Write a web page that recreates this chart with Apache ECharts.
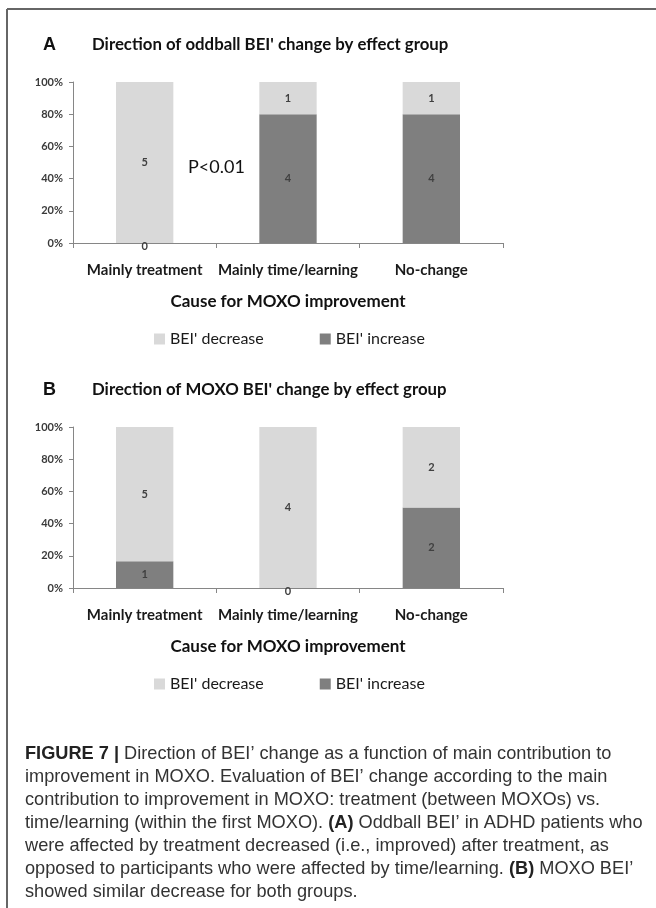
<!DOCTYPE html>
<html>
<head>
<meta charset="utf-8">
<script src="https://cdn.jsdelivr.net/npm/echarts@6/dist/echarts.min.js"></script>
<style>
html,body{margin:0;padding:0;background:#fff;}
#chart{width:656px;height:908px;}
</style>
</head>
<body>
<div id="chart"></div>
<script>
// ---- data ----
var categories = ['Mainly treatment', 'Mainly time/learning', 'No-change'];
var seriesNames = ["BEI' decrease", "BEI' increase"];
var panelA_decrease = [5, 1, 1];
var panelA_increase = [0, 4, 4];
var panelB_decrease = [5, 4, 2];
var panelB_increase = [1, 0, 2];
var yTicks = [0, 20, 40, 60, 80, 100];
var titleA = "Direction of oddball BEI' change by effect group";
var titleB = "Direction of MOXO BEI' change by effect group";
var xAxisName = 'Cause for MOXO improvement';
var pValueText = 'P<0.01';
var captionLines = [
  '{b|FIGURE 7 |} Direction of BEI\u2019 change as a function of main contribution to',
  'improvement in MOXO. Evaluation of BEI\u2019 change according to the main',
  'contribution to improvement in MOXO: treatment (between MOXOs) vs.',
  'time/learning (within the first MOXO). {b|(A)} Oddball BEI\u2019 in ADHD patients who',
  'were affected by treatment decreased (i.e., improved) after treatment, as',
  'opposed to participants who were affected by time/learning. {b|(B)} MOXO BEI\u2019',
  'showed similar decrease for both groups.'
];

// ---- styles ----
var LIGHT = '#d9d9d9', DARK = '#7f7f7f';
var CFONT = 'Lato';
var gridTops = [82, 427];
var gridH = 161;

function totals(a, b) { return a.map(function (v, i) { return v + b[i]; }); }
function pctItems(counts, tot) {
  return counts.map(function (c, i) {
    var item = {value: tot[i] ? c / tot[i] * 100 : 0};
    if (c === 0) item.label = {offset: [0, 3]};
    return item;
  });
}

var panels = [
  {dec: panelA_decrease, inc: panelA_increase},
  {dec: panelB_decrease, inc: panelB_increase}
];

var grids = [], xAxes = [], yAxes = [], series = [], legends = [];
panels.forEach(function (p, k) {
  var tot = totals(p.dec, p.inc);
  grids.push({left: 73, top: gridTops[k], width: 430, height: gridH});
  xAxes.push({
    type: 'category', gridIndex: k, data: categories,
    axisLine: {lineStyle: {color: '#868686', width: 1}},
    axisTick: {show: true, length: 5, lineStyle: {color: '#868686'}},
    axisLabel: {interval: 0, hideOverlap: false, margin: 20, fontFamily: CFONT, fontWeight: 'bold', fontSize: 15, color: '#1a1a1a'},
    name: xAxisName, nameLocation: 'middle', nameGap: 50,
    nameTextStyle: {fontFamily: CFONT, fontWeight: 'bold', fontSize: 17, color: '#111'}
  });
  yAxes.push({
    type: 'value', gridIndex: k, min: 0, max: 100, interval: 20,
    axisLine: {show: true, lineStyle: {color: '#868686', width: 1}},
    axisTick: {show: true, length: 4, lineStyle: {color: '#868686'}},
    splitLine: {show: false},
    axisLabel: {margin: 10, fontFamily: CFONT, fontWeight: 'bold', fontSize: 11, color: '#3a3a3a',
      formatter: function (v) { return v + '%'; }}
  });
  var lbl = function (counts) {
    return {show: true, position: 'inside', fontFamily: CFONT, fontWeight: 'bold', fontSize: 11, color: '#404040',
      formatter: function (pr) { return String(counts[pr.dataIndex]); }};
  };
  series.push({
    name: seriesNames[1], type: 'bar', stack: 's' + k, xAxisIndex: k, yAxisIndex: k,
    data: pctItems(p.inc, tot), barWidth: '40%', itemStyle: {color: DARK}, label: lbl(p.inc), animation: false
  });
  series.push({
    name: seriesNames[0], type: 'bar', stack: 's' + k, xAxisIndex: k, yAxisIndex: k,
    data: pctItems(p.dec, tot), barWidth: '40%', itemStyle: {color: LIGHT}, label: lbl(p.dec), animation: false
  });
  legends.push({
    data: [seriesNames[0], seriesNames[1]], left: 149, top: gridTops[k] + 244,
    icon: 'rect', itemWidth: 11, itemHeight: 11, itemGap: 56,
    textStyle: {fontFamily: CFONT, fontSize: 16, color: '#1a1a1a'}
  });
});

var graphics = [
  {type: 'line', shape: {x1: 7, y1: 9, x2: 656, y2: 9}, style: {stroke: '#666', lineWidth: 2}},
  {type: 'line', shape: {x1: 7, y1: 9, x2: 7, y2: 908}, style: {stroke: '#666', lineWidth: 2}}
];
var titles = [titleA, titleB], letters = ['A', 'B'], titleY = [45, 390];
for (var k = 0; k < 2; k++) {
  graphics.push({type: 'text', style: {text: letters[k], x: 43, y: titleY[k], fontFamily: 'Liberation Sans', fontWeight: 'bold', fontSize: 18, fill: '#111', textVerticalAlign: 'middle'}});
  graphics.push({type: 'text', style: {text: titles[k], x: 92, y: titleY[k], fontFamily: CFONT, fontWeight: 'bold', fontSize: 16.8, fill: '#111', textVerticalAlign: 'middle'}});
}
graphics.push({type: 'text', style: {text: pValueText, x: 188, y: 167, fontFamily: CFONT, fontSize: 18, fill: '#111', textVerticalAlign: 'middle'}});
captionLines.forEach(function (t, i) {
  graphics.push({type: 'text', style: {
    text: t, x: 25, y: 754 + 23 * i, fontFamily: 'Liberation Sans', fontSize: 18.2, fill: '#333',
    textVerticalAlign: 'middle',
    rich: {b: {fontFamily: 'Liberation Sans', fontWeight: 'bold', fontSize: 18.2, fill: '#222'}}
  }});
});

var chart = echarts.init(document.getElementById('chart'), null, {renderer: 'canvas'});
chart.setOption({
  animation: false,
  backgroundColor: '#fff',
  grid: grids, xAxis: xAxes, yAxis: yAxes, series: series, legend: legends,
  graphic: graphics
});
</script>
</body>
</html>
